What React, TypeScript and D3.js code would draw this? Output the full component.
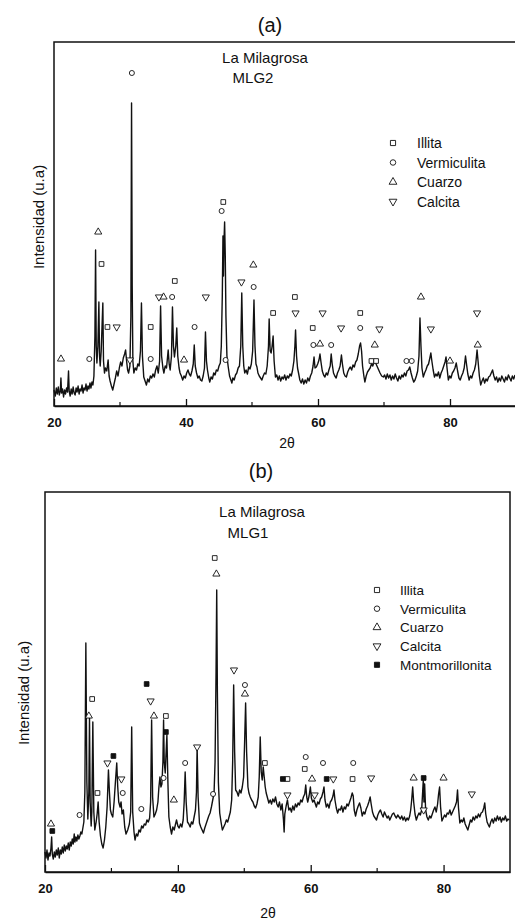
import React, { useEffect, useRef } from "react";
import * as d3 from "d3";

type Pt = [number, number];

// MLG2 diffractogram, [2θ, intensity (a.u.)]
const mlg2Pattern: Pt[] = [
  [20.0,16],[20.2,10],[20.35,18],[20.5,12],[20.65,19],[20.8,11],[20.95,15],[21.05,28],[21.15,13],[21.3,17],
  [21.45,9],[21.6,16],[21.75,12],[21.9,18],[22.05,14],[22.2,35],[22.3,15],[22.45,10],[22.6,17],[22.75,12],
  [22.9,19],[23.05,13],[23.2,11],[23.35,18],[23.5,14],[23.65,20],[23.8,12],[23.95,17],[24.1,15],[24.25,21],
  [24.4,13],[24.55,18],[24.7,16],[24.85,22],[25.0,15],[25.15,20],[25.3,17],[25.45,23],[25.6,18],[25.75,24],
  [25.9,21],[26.05,30],[26.2,70],[26.3,156],[26.4,60],[26.5,43],[26.65,60],[26.8,104],[26.9,50],[27.0,40],
  [27.15,55],[27.4,103],[27.5,45],[27.65,33],[27.8,38],[28.0,35],[28.2,46],[28.35,30],[28.5,25],[28.7,20],
  [28.9,16],[29.1,22],[29.3,28],[29.5,35],[29.7,30],[29.9,38],[30.1,44],[30.3,40],[30.5,48],[30.7,52],
  [30.85,56],[31.0,45],[31.15,36],[31.3,33],[31.5,40],[31.65,90],[31.75,303],[31.85,120],[31.95,45],[32.1,33],
  [32.3,38],[32.5,36],[32.7,42],[32.9,40],[33.1,55],[33.25,103],[33.4,50],[33.6,29],[33.8,25],[34.0,21],
  [34.2,27],[34.4,24],[34.6,30],[34.8,28],[35.0,32],[35.2,29],[35.4,36],[35.6,40],[35.8,33],[36.0,45],
  [36.15,100],[36.3,50],[36.5,38],[36.65,33],[36.85,40],[37.05,38],[37.3,56],[37.45,42],[37.6,36],[37.8,50],
  [37.95,99],[38.1,60],[38.25,49],[38.45,60],[38.6,78],[38.75,50],[38.95,38],[39.1,33],[39.3,30],[39.5,26],
  [39.7,30],[39.9,28],[40.1,33],[40.3,36],[40.5,32],[40.7,30],[40.9,35],[41.1,42],[41.25,61],[41.4,40],
  [41.6,33],[41.8,28],[42.0,30],[42.2,26],[42.4,25],[42.6,30],[42.8,38],[42.95,74],[43.1,45],[43.25,36],
  [43.45,28],[43.6,24],[43.8,29],[44.0,27],[44.2,33],[44.4,31],[44.6,36],[44.8,35],[45.0,40],[45.2,43],
  [45.35,60],[45.5,110],[45.6,170],[45.68,130],[45.76,165],[45.85,184],[45.95,150],[46.05,90],[46.2,50],[46.4,39],
  [46.6,30],[46.8,26],[46.95,23],[47.1,28],[47.3,26],[47.5,31],[47.7,33],[47.9,38],[48.1,40],[48.3,60],
  [48.45,113],[48.6,60],[48.75,40],[48.9,33],[49.1,36],[49.3,32],[49.5,39],[49.7,37],[49.9,42],[50.1,55],
  [50.3,106],[50.45,60],[50.6,42],[50.75,39],[50.9,33],[51.1,30],[51.3,28],[51.5,26],[51.7,30],[51.9,33],
  [52.1,32],[52.3,40],[52.5,60],[52.6,87],[52.75,55],[52.9,53],[53.05,60],[53.2,70],[53.35,45],[53.55,29],
  [53.75,31],[53.95,26],[54.15,30],[54.35,25],[54.55,29],[54.75,27],[54.95,31],[55.15,26],[55.35,30],[55.55,28],
  [55.75,32],[55.95,30],[56.15,36],[56.35,45],[56.5,60],[56.6,76],[56.75,50],[56.9,38],[57.05,33],[57.25,26],
  [57.45,23],[57.65,27],[57.85,22],[58.05,26],[58.25,23],[58.45,28],[58.65,25],[58.85,30],[59.05,33],[59.25,40],
  [59.4,49],[59.55,38],[59.75,39],[59.95,42],[60.15,46],[60.3,52],[60.45,44],[60.65,35],[60.85,31],[61.05,29],
  [61.25,33],[61.45,31],[61.65,36],[61.85,40],[62.0,52],[62.15,42],[62.35,33],[62.55,30],[62.75,28],[62.95,33],
  [63.15,36],[63.35,40],[63.55,51],[63.7,42],[63.9,33],[64.1,30],[64.3,29],[64.5,34],[64.7,37],[64.9,39],
  [65.1,36],[65.3,41],[65.5,39],[65.7,44],[65.9,46],[66.1,52],[66.3,60],[66.45,63],[66.6,55],[66.75,40],
  [66.95,30],[67.1,24],[67.3,30],[67.5,34],[67.7,36],[67.9,38],[68.1,42],[68.3,40],[68.5,44],[68.65,46],
  [68.8,42],[69.0,39],[69.2,36],[69.4,33],[69.65,30],[69.9,29],[70.1,31],[70.3,27],[70.5,32],[70.7,28],
  [70.9,31],[71.1,26],[71.3,30],[71.5,27],[71.7,32],[71.9,28],[72.1,25],[72.3,30],[72.5,27],[72.7,31],
  [72.9,29],[73.1,33],[73.3,30],[73.5,35],[73.7,36],[73.9,39],[74.1,33],[74.3,28],[74.5,24],[74.7,26],
  [74.9,30],[75.1,35],[75.3,50],[75.45,88],[75.6,60],[75.75,38],[75.95,29],[76.15,33],[76.35,36],[76.55,40],
  [76.75,42],[76.95,48],[77.1,53],[77.25,45],[77.45,36],[77.65,29],[77.85,32],[78.05,30],[78.25,34],[78.45,28],
  [78.65,33],[78.85,36],[79.05,40],[79.25,44],[79.4,49],[79.55,38],[79.75,26],[79.95,30],[80.15,28],[80.35,33],
  [80.55,35],[80.75,38],[80.95,43],[81.15,35],[81.35,28],[81.55,26],[81.75,30],[81.95,33],[82.15,38],[82.35,50],
  [82.5,42],[82.7,32],[82.9,26],[83.1,30],[83.3,28],[83.5,33],[83.7,36],[83.9,42],[84.1,56],[84.25,45],
  [84.45,30],[84.65,21],[84.85,25],[85.05,28],[85.25,23],[85.45,27],[85.65,25],[85.85,29],[86.05,30],[86.25,33],
  [86.45,36],[86.65,30],[86.85,26],[87.05,29],[87.25,24],[87.45,28],[87.65,25],[87.85,30],[88.05,27],[88.25,24],
  [88.45,29],[88.65,26],[88.85,31],[89.05,28],[89.25,25],[89.45,30],[89.65,27],[89.85,31],
];

// MLG1 diffractogram, [2θ, intensity (a.u.)]
const mlg1Pattern: Pt[] = [
  [20.0,20],[20.15,14],[20.3,22],[20.45,12],[20.6,19],[20.75,16],[20.9,24],[21.0,35],[21.1,18],[21.25,13],
  [21.4,20],[21.55,15],[21.7,22],[21.85,17],[22.0,24],[22.15,14],[22.3,22],[22.45,18],[22.6,25],[22.75,19],
  [22.9,27],[23.05,21],[23.2,26],[23.35,23],[23.5,29],[23.65,22],[23.8,30],[23.95,26],[24.1,33],[24.25,28],
  [24.4,38],[24.5,30],[24.65,35],[24.8,31],[24.95,37],[25.1,33],[25.25,36],[25.4,40],[25.55,38],[25.7,44],
  [25.85,50],[26.0,80],[26.15,229],[26.3,90],[26.45,53],[26.6,80],[26.7,155],[26.8,70],[26.95,46],[27.05,60],
  [27.2,150],[27.35,60],[27.5,42],[27.7,50],[27.85,58],[28.0,70],[28.15,50],[28.35,36],[28.55,28],[28.75,24],
  [28.95,32],[29.15,45],[29.35,65],[29.55,102],[29.7,80],[29.85,62],[30.0,58],[30.2,55],[30.4,70],[30.6,90],
  [30.8,109],[30.95,85],[31.1,70],[31.3,65],[31.45,70],[31.6,58],[31.8,62],[32.0,45],[32.2,38],[32.45,42],
  [32.7,48],[32.9,60],[33.05,145],[33.2,60],[33.4,40],[33.55,32],[33.75,38],[33.95,36],[34.15,42],[34.35,40],
  [34.55,46],[34.75,44],[34.95,48],[35.15,47],[35.35,52],[35.55,50],[35.75,54],[35.9,70],[36.05,152],[36.2,75],
  [36.4,55],[36.6,58],[36.8,62],[37.0,70],[37.15,85],[37.3,95],[37.45,85],[37.6,88],[37.75,110],[37.85,152],
  [37.95,110],[38.1,99],[38.2,115],[38.35,137],[38.5,90],[38.65,55],[38.85,45],[39.05,38],[39.25,45],[39.45,42],
  [39.65,48],[39.8,52],[40.0,46],[40.2,44],[40.4,48],[40.6,45],[40.8,52],[40.95,70],[41.1,100],[41.25,70],
  [41.45,50],[41.65,48],[41.85,45],[42.05,50],[42.25,48],[42.45,55],[42.65,62],[42.8,80],[42.9,125],[43.05,75],
  [43.25,49],[43.45,45],[43.65,42],[43.85,39],[44.05,44],[44.25,48],[44.45,52],[44.65,56],[44.85,59],[45.05,65],
  [45.25,72],[45.45,79],[45.6,110],[45.75,200],[45.85,282],[45.95,180],[46.1,90],[46.3,59],[46.5,50],[46.7,42],
  [46.9,45],[47.1,48],[47.3,52],[47.5,50],[47.7,55],[47.9,60],[48.1,72],[48.25,110],[48.4,187],[48.55,120],
  [48.7,82],[48.9,80],[49.1,76],[49.3,82],[49.5,79],[49.7,85],[49.9,95],[50.05,130],[50.2,169],[50.35,120],
  [50.55,85],[50.7,79],[50.9,75],[51.1,72],[51.3,70],[51.5,66],[51.7,64],[51.9,68],[52.1,75],[52.25,95],
  [52.4,135],[52.55,100],[52.7,92],[52.85,105],[53.0,95],[53.15,85],[53.3,79],[53.5,74],[53.7,69],[53.9,72],
  [54.1,68],[54.3,73],[54.5,70],[54.7,75],[54.9,68],[55.1,65],[55.3,70],[55.5,62],[55.7,68],[55.9,52],
  [56.0,40],[56.1,58],[56.3,66],[56.5,72],[56.7,62],[56.9,64],[57.1,60],[57.3,66],[57.5,62],[57.7,68],
  [57.9,65],[58.1,69],[58.3,67],[58.5,72],[58.7,70],[58.9,75],[59.1,78],[59.25,87],[59.4,75],[59.55,70],
  [59.75,76],[59.95,85],[60.1,74],[60.3,70],[60.5,72],[60.7,68],[60.85,65],[61.05,70],[61.25,68],[61.45,73],
  [61.65,75],[61.85,80],[62.0,85],[62.15,72],[62.35,65],[62.55,68],[62.75,64],[62.95,70],[63.15,72],[63.35,76],
  [63.5,82],[63.65,72],[63.85,64],[64.05,59],[64.25,63],[64.45,62],[64.65,66],[64.85,60],[65.05,65],[65.25,63],
  [65.45,68],[65.65,66],[65.85,70],[66.05,74],[66.25,79],[66.4,76],[66.55,62],[66.75,56],[66.95,62],[67.15,66],
  [67.35,69],[67.55,64],[67.75,56],[67.95,60],[68.15,58],[68.35,63],[68.55,66],[68.75,70],[68.95,75],[69.1,68],
  [69.3,60],[69.5,56],[69.7,54],[69.9,52],[70.1,57],[70.3,60],[70.5,62],[70.7,58],[70.9,55],[71.1,60],
  [71.3,57],[71.5,54],[71.7,56],[71.9,52],[72.1,55],[72.3,58],[72.5,59],[72.7,56],[72.9,54],[73.1,57],
  [73.3,55],[73.5,53],[73.7,56],[73.9,52],[74.1,55],[74.3,51],[74.5,54],[74.7,52],[74.9,56],[75.05,62],
  [75.2,72],[75.35,85],[75.5,70],[75.7,58],[75.9,52],[76.1,56],[76.3,59],[76.5,57],[76.7,62],[76.85,80],
  [76.95,92],[77.05,70],[77.15,88],[77.3,62],[77.5,55],[77.7,52],[77.9,56],[78.1,54],[78.3,58],[78.5,62],
  [78.7,65],[78.9,60],[79.1,68],[79.25,78],[79.4,85],[79.55,65],[79.75,51],[79.95,54],[80.15,57],[80.35,55],
  [80.55,59],[80.75,58],[80.95,62],[81.15,57],[81.35,60],[81.55,63],[81.75,66],[81.95,70],[82.1,82],[82.25,64],
  [82.45,49],[82.65,52],[82.85,50],[83.05,54],[83.25,48],[83.45,45],[83.65,42],[83.85,47],[84.05,52],[84.25,50],
  [84.45,55],[84.65,52],[84.85,56],[85.05,54],[85.25,58],[85.45,55],[85.65,59],[85.85,60],[86.05,64],[86.2,69],
  [86.35,58],[86.55,50],[86.75,47],[86.9,45],[87.1,50],[87.3,53],[87.5,49],[87.7,54],[87.9,51],[88.1,56],
  [88.3,52],[88.5,55],[88.7,50],[88.9,54],[89.1,52],[89.3,56],[89.5,51],[89.7,53],[89.9,52],
];

// phase markers [2θ, intensity]
const mlg2Illita: Pt[] = [[27.2,142],[28.1,79],[34.65,79],[38.3,125],[45.65,204],[53.2,93],[56.5,109],[59.2,78],[66.4,93],[68.1,45],[68.8,45]];
const mlg2Vermiculita: Pt[] = [[25.35,47],[31.8,333],[34.65,47],[37.9,109],[41.3,79],[45.4,195],[46.0,46],[50.25,119],[59.3,61],[62.0,61],[66.4,78],[73.4,45],[74.2,45]];
const mlg2Cuarzo: Pt[] = [[21.06,47],[26.7,174],[36.6,109],[39.7,46],[50.2,141],[60.3,62],[68.6,61],[75.6,109],[80.0,45],[84.2,61]];
const mlg2Calcita: Pt[] = [[29.5,79],[31.5,46],[35.9,109],[43.0,109],[48.4,124],[56.6,93],[60.7,93],[63.5,78],[69.3,77],[77.1,77],[84.1,93]];

const mlg1Illita: Pt[] = [[27.1,173],[27.9,79],[38.2,156],[45.55,314],[53.1,109],[56.5,93],[59.1,103],[66.3,93]];
const mlg1Vermiculita: Pt[] = [[25.2,57],[31.7,79],[34.5,63],[37.85,94],[41.1,109],[45.3,78],[50.1,187],[59.25,115],[61.85,109],[66.4,109]];
const mlg1Cuarzo: Pt[] = [[20.9,48],[26.6,156],[36.4,156],[39.4,72],[45.8,298],[50.1,178],[60.2,93],[75.5,94],[80.0,94]];
const mlg1Calcita: Pt[] = [[29.4,109],[31.5,93],[35.9,171],[42.9,125],[48.45,202],[56.5,77],[60.6,77],[63.4,93],[69.1,94],[77.0,62],[84.25,78]];
const mlg1Montmorillonita: Pt[] = [[21.1,41],[30.3,116],[35.3,188],[38.2,140],[55.8,93],[62.4,93],[77.0,94]];

const xTicks = [20, 40, 60, 80];
const xMinorTicks = [30, 50, 70];
const FONT = "'Liberation Sans', Arial, Helvetica, sans-serif";

type Phase = { name: string; kind: string; points: Pt[] };

const panelA = {
  box: { left: 54, right: 516, top: 42, bottom: 406 },
  yMax: 364,
  label: "(a)", labelX: 270, labelY: 32,
  site: "La Milagrosa", siteX: 265, siteY: 63,
  sample: "MLG2", sampleX: 253, sampleY: 83,
  yLabelX: 44, yLabelY: 217,
  xLabelX: 287, xLabelY: 448,
  legend: { x: 393, y: 143, step: 19.5, textX: 417, size: 14 },
  pattern: mlg2Pattern,
  phases: [
    { name: "Illita", kind: "square", points: mlg2Illita },
    { name: "Vermiculita", kind: "circle", points: mlg2Vermiculita },
    { name: "Cuarzo", kind: "up", points: mlg2Cuarzo },
    { name: "Calcita", kind: "down", points: mlg2Calcita },
  ] as Phase[],
};

const panelB = {
  box: { left: 45, right: 510, top: 492, bottom: 872 },
  yMax: 380,
  label: "(b)", labelX: 261, labelY: 478,
  site: "La Milagrosa", siteX: 262, siteY: 517,
  sample: "MLG1", sampleX: 248, sampleY: 538,
  yLabelX: 29, yLabelY: 693,
  xLabelX: 268, xLabelY: 918,
  legend: { x: 377, y: 590, step: 18.7, textX: 400, size: 13.5 },
  pattern: mlg1Pattern,
  phases: [
    { name: "Illita", kind: "square", points: mlg1Illita },
    { name: "Vermiculita", kind: "circle", points: mlg1Vermiculita },
    { name: "Cuarzo", kind: "up", points: mlg1Cuarzo },
    { name: "Calcita", kind: "down", points: mlg1Calcita },
    { name: "Montmorillonita", kind: "filled", points: mlg1Montmorillonita },
  ] as Phase[],
};

function symbolPath(kind: string, scale = 1) {
  if (kind === "square" || kind === "filled") return d3.symbol(d3.symbolSquare, 22 * scale)()!;
  if (kind === "circle") return d3.symbol(d3.symbolCircle, 20 * scale)()!;
  return d3.symbol(d3.symbolTriangle, 22 * scale)()!;
}

function drawMarker(g: any, kind: string, x: number, y: number, scale = 1) {
  g.append("path")
    .attr("d", symbolPath(kind, scale))
    .attr("transform", `translate(${x},${y})${kind === "down" ? " rotate(180)" : ""}`)
    .attr("fill", kind === "filled" ? "#111" : "#fff")
    .attr("stroke", "#111")
    .attr("stroke-width", 0.9);
}

const Panel = ({ cfg }: { cfg: typeof panelA }) => {
  const gRef = useRef<SVGGElement>(null);

  useEffect(() => {
    const g = d3.select(gRef.current);
    g.selectAll("*").remove();
    const { box } = cfg;

    const x = d3.scaleLinear().domain([20, 90]).range([box.left, box.right]);
    const y = d3.scaleLinear().domain([0, cfg.yMax]).range([box.bottom, box.top]);

    // frame
    g.append("rect")
      .attr("x", box.left)
      .attr("y", box.top)
      .attr("width", box.right - box.left)
      .attr("height", box.bottom - box.top)
      .attr("fill", "none")
      .attr("stroke", "#111")
      .attr("stroke-width", 1.5);

    // x axis, ticks pointing inward
    const axis = g.append("g")
      .attr("transform", `translate(0,${box.bottom})`)
      .call(
        d3.axisBottom(x).tickValues(xTicks).tickSizeInner(-7).tickSizeOuter(0).tickPadding(12)
      );
    axis.select(".domain").attr("stroke", "#111").attr("stroke-width", 1.5);
    axis.selectAll(".tick line").attr("stroke", "#111").attr("stroke-width", 1.3);
    axis.selectAll(".tick text")
      .attr("fill", "#111")
      .attr("font-family", FONT)
      .attr("font-weight", "bold")
      .attr("font-size", 13);

    g.append("g")
      .selectAll("line")
      .data(xMinorTicks)
      .join("line")
      .attr("x1", (d) => x(d))
      .attr("x2", (d) => x(d))
      .attr("y1", box.bottom)
      .attr("y2", box.bottom - 4)
      .attr("stroke", "#111")
      .attr("stroke-width", 1.2);

    // pattern
    const line = d3.line<Pt>().x((d) => x(d[0])).y((d) => y(d[1]));
    g.append("path")
      .datum(cfg.pattern)
      .attr("d", line)
      .attr("fill", "none")
      .attr("stroke", "#111")
      .attr("stroke-width", 1.4)
      .attr("stroke-linejoin", "round");

    // phase markers
    cfg.phases.forEach((ph) => {
      ph.points.forEach((p) => drawMarker(g, ph.kind, x(p[0]), y(p[1])));
    });

    // legend
    const lg = cfg.legend;
    cfg.phases.forEach((ph, i) => {
      const cy = lg.y + i * lg.step;
      drawMarker(g, ph.kind, lg.x, cy, 1.2);
      g.append("text")
        .attr("x", lg.textX)
        .attr("y", cy)
        .attr("dy", "0.36em")
        .attr("font-family", FONT)
        .attr("font-size", lg.size)
        .attr("fill", "#111")
        .text(ph.name);
    });

    const text = (t: string, tx: number, ty: number, size: number, extra?: (s: any) => void) => {
      const s = g.append("text")
        .attr("x", tx)
        .attr("y", ty)
        .attr("text-anchor", "middle")
        .attr("font-family", FONT)
        .attr("font-size", size)
        .attr("fill", "#111")
        .text(t);
      if (extra) extra(s);
    };

    text(cfg.label, cfg.labelX, cfg.labelY, 20);
    text(cfg.site, cfg.siteX, cfg.siteY, 15);
    text(cfg.sample, cfg.sampleX, cfg.sampleY, 15);
    text("2θ", cfg.xLabelX, cfg.xLabelY, 14);
    text("Intensidad (u.a)", cfg.yLabelX, cfg.yLabelY, 15, (s) =>
      s.attr("x", 0).attr("y", 0).attr("transform", `translate(${cfg.yLabelX},${cfg.yLabelY}) rotate(-90)`)
    );
  }, [cfg]);

  return <g ref={gRef} />;
};

export default function App() {
  return (
    <svg
      width={515}
      height={923}
      style={{ position: "absolute", left: 0, top: 0, background: "#fff" }}
    >
      <Panel cfg={panelA} />
      <Panel cfg={panelB} />
    </svg>
  );
}
